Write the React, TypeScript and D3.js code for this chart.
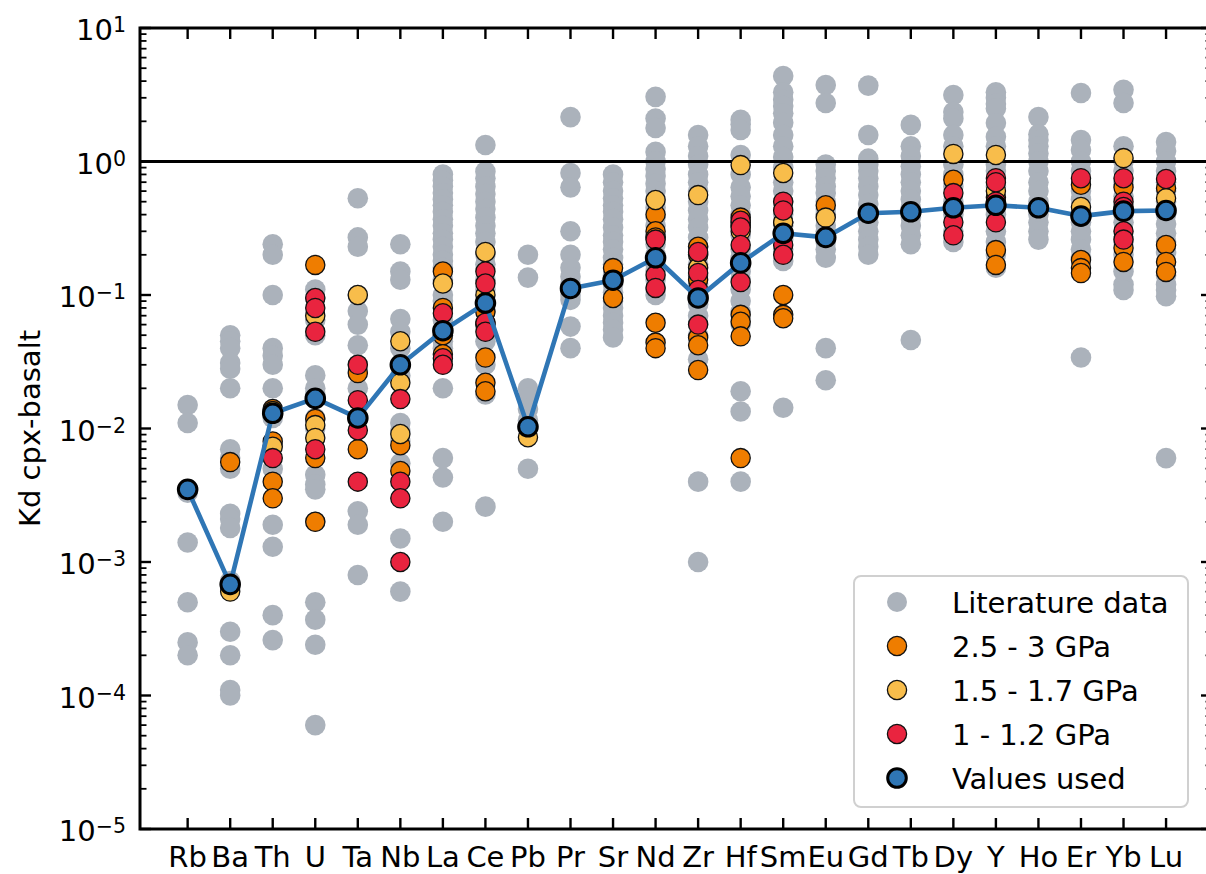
import React from "react";
import * as d3 from "d3";

// Trace elements, in plotting order along the x axis
const elements = [
  "Rb", "Ba", "Th", "U", "Ta", "Nb", "La", "Ce", "Pb", "Pr", "Sr", "Nd",
  "Zr", "Hf", "Sm", "Eu", "Gd", "Tb", "Dy", "Y", "Ho", "Er", "Yb", "Lu",
];

// Published cpx/basalt partition coefficients, one list per element
const literature: number[][] = [
  [0.015, 0.011, 0.0033, 0.0014, 0.0005, 0.00025, 0.0002],
  [0.05, 0.045, 0.04, 0.031, 0.028, 0.02, 0.007, 0.006, 0.005, 0.0023, 0.0021, 0.0018, 0.00072, 0.00065, 0.0003, 0.0002, 0.00011, 0.0001],
  [0.24, 0.2, 0.1, 0.04, 0.035, 0.03, 0.02, 0.014, 0.012, 0.0075, 0.005, 0.0019, 0.0013, 0.0004, 0.00026],
  [0.11, 0.095, 0.065, 0.05, 0.025, 0.02, 0.018, 0.012, 0.01, 0.0045, 0.0038, 0.0035, 0.002, 0.0005, 0.00037, 0.00024, 0.00006],
  [0.53, 0.27, 0.23, 0.1, 0.076, 0.06, 0.042, 0.03, 0.027, 0.02, 0.012, 0.0024, 0.0019, 0.0008],
  [0.24, 0.15, 0.13, 0.066, 0.053, 0.04, 0.025, 0.011, 0.0095, 0.008, 0.0055, 0.0015, 0.0006],
  [0.8, 0.72, 0.65, 0.58, 0.52, 0.47, 0.42, 0.37, 0.33, 0.29, 0.26, 0.23, 0.2, 0.18, 0.16, 0.13, 0.1, 0.09, 0.065, 0.05, 0.045, 0.04, 0.02, 0.006, 0.0043, 0.002],
  [1.33, 0.84, 0.75, 0.65, 0.57, 0.5, 0.44, 0.38, 0.33, 0.29, 0.25, 0.2, 0.17, 0.13, 0.11, 0.075, 0.06, 0.045, 0.03, 0.018, 0.0026],
  [0.2, 0.135, 0.02, 0.017, 0.014, 0.0115, 0.005],
  [2.15, 0.82, 0.64, 0.3, 0.2, 0.16, 0.137, 0.12, 0.1, 0.092, 0.058, 0.04],
  [0.8, 0.7, 0.6, 0.53, 0.47, 0.42, 0.37, 0.32, 0.28, 0.25, 0.22, 0.19, 0.17, 0.14, 0.12, 0.105, 0.09, 0.08, 0.07, 0.062, 0.055, 0.048],
  [3.05, 2.1, 1.78, 1.18, 1.0, 0.88, 0.78, 0.68, 0.6, 0.52, 0.45, 0.38, 0.33, 0.28, 0.24, 0.2, 0.17, 0.15, 0.13, 0.11, 0.1],
  [1.58, 1.3, 1.1, 0.95, 0.8, 0.7, 0.6, 0.5, 0.43, 0.37, 0.32, 0.27, 0.23, 0.2, 0.17, 0.14, 0.12, 0.1, 0.085, 0.07, 0.06, 0.05, 0.033, 0.004, 0.001],
  [2.05, 1.9, 1.72, 1.12, 0.8, 0.64, 0.55, 0.47, 0.4, 0.34, 0.28, 0.22, 0.19, 0.15, 0.13, 0.11, 0.09, 0.075, 0.06, 0.019, 0.0134, 0.004],
  [4.37, 3.3, 2.9, 2.6, 2.3, 1.95, 1.58, 1.3, 1.08, 0.9, 0.7, 0.6, 0.5, 0.4, 0.33, 0.26, 0.22, 0.18, 0.0143],
  [3.74, 2.74, 0.95, 0.85, 0.75, 0.65, 0.58, 0.5, 0.44, 0.4, 0.33, 0.3, 0.25, 0.22, 0.19, 0.04, 0.023],
  [3.7, 1.58, 1.05, 0.95, 0.85, 0.75, 0.65, 0.56, 0.48, 0.4, 0.35, 0.3, 0.26, 0.23, 0.2],
  [1.88, 1.3, 1.1, 0.92, 0.8, 0.7, 0.6, 0.52, 0.45, 0.38, 0.33, 0.28, 0.24, 0.046],
  [3.15, 2.35, 2.1, 1.58, 1.3, 0.95, 0.8, 0.65, 0.5, 0.4, 0.3, 0.25],
  [3.3, 3.0, 2.7, 2.5, 1.94, 1.53, 1.3, 0.95, 0.85, 0.65, 0.4, 0.3, 0.25, 0.2, 0.16],
  [2.15, 1.6, 1.45, 1.3, 1.15, 1.0, 0.85, 0.7, 0.6, 0.5, 0.45, 0.4, 0.35, 0.3, 0.26],
  [3.26, 1.45, 1.22, 1.0, 0.85, 0.6, 0.52, 0.42, 0.35, 0.3, 0.26, 0.22, 0.19, 0.034],
  [3.44, 2.74, 1.3, 1.0, 0.85, 0.7, 0.55, 0.4, 0.35, 0.25, 0.2, 0.15, 0.12, 0.109],
  [1.4, 1.2, 1.0, 0.85, 0.7, 0.6, 0.5, 0.4, 0.34, 0.29, 0.25, 0.21, 0.14, 0.12, 0.109, 0.098, 0.006],
];

// Experiments at 2.5 - 3 GPa
const gpa25to3: number[][] = [
  [], [0.0056], [0.014, 0.013, 0.008, 0.004, 0.003], [0.168, 0.0118, 0.006, 0.002],
  [0.026, 0.007], [0.0075, 0.0048], [0.15, 0.08, 0.05, 0.036], [0.075, 0.06, 0.034, 0.022, 0.019],
  [], [], [0.159, 0.095], [0.4, 0.3, 0.27, 0.062, 0.044, 0.04],
  [0.23, 0.2, 0.13, 0.048, 0.042, 0.0274], [0.38, 0.35, 0.33, 0.071, 0.063, 0.049, 0.006],
  [0.35, 0.1, 0.071, 0.067], [0.47], [], [], [0.73], [0.54, 0.217, 0.168],
  [], [0.67, 0.183, 0.159, 0.146], [0.64, 0.225, 0.177], [0.63, 0.237, 0.177, 0.149],
];

// Experiments at 1.5 - 1.7 GPa
const gpa15to17: number[][] = [
  [], [0.0006], [0.0135, 0.0073], [0.07, 0.0106, 0.0085],
  [0.1], [0.045, 0.022, 0.0091], [0.122], [0.21, 0.1],
  [0.0086], [], [], [0.515],
  [0.56, 0.16], [0.94, 0.3], [0.82, 0.35], [0.38], [], [], [1.14], [1.12, 0.6],
  [], [0.456], [1.06], [0.53],
];

// Experiments at 1 - 1.2 GPa
const gpa1to12: number[][] = [
  [], [], [0.006], [0.095, 0.08, 0.053, 0.007],
  [0.03, 0.0163, 0.0097, 0.004], [0.0166, 0.004, 0.003, 0.001], [0.073, 0.0336, 0.03], [0.15, 0.122, 0.062, 0.053],
  [], [], [], [0.26, 0.141, 0.113],
  [0.21, 0.146, 0.109, 0.06], [0.36, 0.32, 0.237, 0.125], [0.5, 0.43, 0.237, 0.2], [], [], [], [0.58, 0.35, 0.28], [0.75, 0.7, 0.5, 0.35],
  [], [0.75], [0.75, 0.5, 0.456, 0.3, 0.26], [0.74],
];

// Partition coefficients adopted for the model
const valuesUsed = [
  0.0035, 0.00068, 0.013, 0.0168, 0.012, 0.03, 0.054, 0.087, 0.0103, 0.112, 0.129, 0.19,
  0.095, 0.174, 0.29, 0.27, 0.41, 0.42, 0.45, 0.47, 0.45, 0.39, 0.425, 0.43,
];

const yExponents = [1, 0, -1, -2, -3, -4, -5];

const legendItems = [
  { label: "Literature data", kind: "lit" },
  { label: "2.5 - 3 GPa", kind: "high" },
  { label: "1.5 - 1.7 GPa", kind: "mid" },
  { label: "1 - 1.2 GPa", kind: "low" },
  { label: "Values used", kind: "used" },
];

const COLORS = {
  lit: "#abb2bb",
  high: "#ef7d00",
  mid: "#f8bd4b",
  low: "#e9243f",
  used: "#2f76b5",
};

const FONT = "'DejaVu Sans', sans-serif";

const W = 1206;
const H = 874;
const M = { left: 140, right: 1212, top: 28, bottom: 829 };

export default function App() {
  const x = d3.scaleLinear().domain([-1.12, elements.length + 0.08]).range([M.left, M.right]);
  const y = d3.scaleLog().domain([1e-5, 10]).range([M.bottom, M.top]);

  const line = d3
    .line<number>()
    .x((_, i) => x(i))
    .y((d) => y(d));

  const minorTicks: number[] = [];
  for (let e = -5; e < 1; e++) {
    for (let k = 2; k <= 9; k++) minorTicks.push(k * Math.pow(10, e));
  }

  const pts = (groups: number[][]) =>
    groups.flatMap((vals, i) => vals.map((v) => ({ i, v })));

  const coloured = (groups: number[][], fill: string, key: string) =>
    pts(groups).map((p, j) => (
      <circle key={key + j} cx={x(p.i)} cy={y(p.v)} r={9.6} fill={fill} stroke="#111" strokeWidth={1.3} />
    ));

  const legendMarker = (kind: string, cx: number, cy: number) => {
    if (kind === "lit") return <circle cx={cx} cy={cy} r={10} fill={COLORS.lit} />;
    if (kind === "used")
      return <circle cx={cx} cy={cy} r={9.3} fill={COLORS.used} stroke="#000" strokeWidth={3} />;
    const fill = kind === "high" ? COLORS.high : kind === "mid" ? COLORS.mid : COLORS.low;
    return <circle cx={cx} cy={cy} r={9.6} fill={fill} stroke="#111" strokeWidth={1.3} />;
  };

  return (
    <svg
      width={W}
      height={H}
      style={{ position: "absolute", left: 0, top: 0, background: "#fff" }}
      fontFamily={FONT}
    >
      <rect x={0} y={0} width={W} height={H} fill="#fff" />

      {/* literature scatter */}
      {pts(literature).map((p, j) => (
        <circle key={"lit" + j} cx={x(p.i)} cy={y(p.v)} r={10.3} fill={COLORS.lit} />
      ))}

      {/* Kd = 1 reference */}
      <line x1={M.left} x2={M.right} y1={y(1)} y2={y(1)} stroke="#000" strokeWidth={3.2} />

      {coloured(gpa25to3, COLORS.high, "h")}
      {coloured(gpa15to17, COLORS.mid, "m")}
      {coloured(gpa1to12, COLORS.low, "l")}

      {/* adopted values */}
      <path d={line(valuesUsed) || ""} fill="none" stroke={COLORS.used} strokeWidth={4.6} strokeLinejoin="round" />
      {valuesUsed.map((v, i) => (
        <circle key={"u" + i} cx={x(i)} cy={y(v)} r={9.3} fill={COLORS.used} stroke="#000" strokeWidth={3} />
      ))}

      {/* y ticks, left and right */}
      {yExponents.map((e) => {
        const yy = y(Math.pow(10, e));
        return (
          <g key={"yt" + e}>
            <line x1={M.left} x2={M.left + 11} y1={yy} y2={yy} stroke="#000" strokeWidth={2.4} />
            <line x1={M.right} x2={M.right - 11} y1={yy} y2={yy} stroke="#000" strokeWidth={2.4} />
            <text x={126} y={yy + 12} textAnchor="end" fontSize={29} fill="#000">
              10
              <tspan dy={-8} fontSize={20.5}>
                {e < 0 ? "\u2212" + Math.abs(e) : String(e)}
              </tspan>
            </text>
          </g>
        );
      })}
      {minorTicks.map((v, j) => (
        <g key={"mt" + j}>
          <line x1={M.left} x2={M.left + 6.5} y1={y(v)} y2={y(v)} stroke="#000" strokeWidth={1.8} />
          <line x1={M.right} x2={M.right - 6.5} y1={y(v)} y2={y(v)} stroke="#000" strokeWidth={1.8} />
        </g>
      ))}

      {/* x ticks, bottom and top */}
      {elements.map((el, i) => (
        <g key={"xt" + el}>
          <line x1={x(i)} x2={x(i)} y1={M.bottom} y2={M.bottom - 11} stroke="#000" strokeWidth={2.4} />
          <line x1={x(i)} x2={x(i)} y1={M.top} y2={M.top + 11} stroke="#000" strokeWidth={2.4} />
          <text x={x(i)} y={867} textAnchor="middle" fontSize={29} fill="#000">
            {el}
          </text>
        </g>
      ))}

      {/* frame */}
      <rect
        x={M.left}
        y={M.top}
        width={M.right - M.left}
        height={M.bottom - M.top}
        fill="none"
        stroke="#000"
        strokeWidth={3}
      />

      {/* y axis title */}
      <text
        transform={`translate(40, ${(M.top + M.bottom) / 2}) rotate(-90)`}
        textAnchor="middle"
        fontSize={29}
        fill="#000"
      >
        Kd cpx-basalt
      </text>

      {/* legend */}
      <g>
        <rect x={854} y={576} width={334} height={231} rx={7} fill="#fff" fillOpacity={0.9} stroke="#d0d0d0" strokeWidth={2} />
        {legendItems.map((it, k) => {
          const cy = 602 + k * 44;
          return (
            <g key={it.kind}>
              {legendMarker(it.kind, 897, cy)}
              <text x={952} y={cy + 10.5} fontSize={29} fill="#000">
                {it.label}
              </text>
            </g>
          );
        })}
      </g>
    </svg>
  );
}
